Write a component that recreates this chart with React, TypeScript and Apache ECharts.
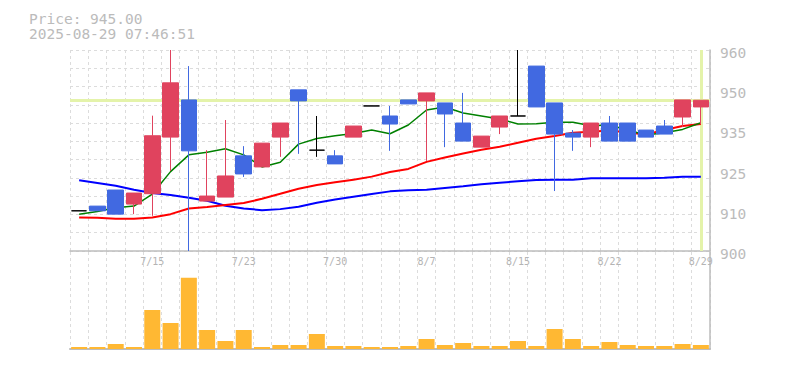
import React, { useEffect, useRef } from "react";
import * as echarts from "echarts";

// ---- data ----
const dates = [
  "7/9", "7/10", "7/11", "7/14", "7/15", "7/16", "7/17", "7/18", "7/22", "7/23",
  "7/24", "7/25", "7/28", "7/29", "7/30", "7/31", "8/1", "8/4", "8/5", "8/7",
  "8/8", "8/12", "8/13", "8/14", "8/15", "8/18", "8/19", "8/20", "8/21", "8/22",
  "8/25", "8/26", "8/27", "8/28", "8/29",
];

// [open, close, low, high]
const candles: number[][] = [
  [912, 912, 912, 912],
  [913.4, 912, 912, 913.4],
  [918.2, 911, 911, 918.2],
  [914, 917.3, 911, 917.3],
  [917.1, 934.4, 910.5, 940.4],
  [934, 950.2, 923.9, 960],
  [945.1, 929.9, 900, 955.2],
  [914.9, 916.4, 914.9, 930.1],
  [916.1, 922.4, 916.1, 939.1],
  [928.4, 923, 922.1, 931.3],
  [925.1, 932.2, 925.1, 932.2],
  [934, 938.2, 928.1, 938.2],
  [948.1, 944.8, 929, 948.1],
  [930.1, 930.1, 928.1, 940.3],
  [928.4, 926, 926, 930.1],
  [934, 937.3, 934, 937.3],
  [943.3, 943.3, 943.3, 943.3],
  [940.3, 937.9, 929.9, 943.3],
  [945.1, 943.9, 943.9, 945.1],
  [944.8, 947.2, 926.9, 947.2],
  [944.2, 940.9, 931, 944.2],
  [938.2, 932.8, 932.8, 947.2],
  [931, 934.3, 931, 934.3],
  [937, 940.3, 934.9, 940.3],
  [940.3, 940.3, 940.3, 960],
  [955.2, 943, 943, 955.2],
  [944.2, 934.9, 917.9, 944.2],
  [935.2, 934, 929.9, 936.1],
  [934, 938.2, 931, 938.2],
  [938.2, 932.8, 932.8, 940.3],
  [938.2, 932.8, 932.8, 938.2],
  [936.1, 934, 934, 936.1],
  [937.3, 934.9, 934.9, 939.1],
  [940, 945.1, 937, 945.1],
  [943, 945, 937.9, 945],
];

const maShort = [
  911.0, 911.8, 912.9, 913.4, 917, 923.7, 928.7, 929.5, 930.5, 928.7,
  925.1, 926.5, 931.9, 933.6, 934.4, 935.1, 936.1, 935.0, 937.6, 942.1,
  943, 941.2, 940.3, 939.4, 937.9, 938, 938.4, 938.4, 937.4, 937.6,
  936.1, 934.6, 935.3, 936.3, 938.3,
];

const maMid = [
  910.0, 909.9, 909.6, 909.6, 910, 911, 912.7, 913.1, 913.7, 914.3,
  915.6, 917.1, 918.6, 919.7, 920.5, 921.3, 922.2, 923.6, 924.5, 926.6,
  927.9, 929.1, 930.2, 931.1, 932.3, 933.5, 934.3, 935.3, 935.6, 936,
  935.4, 934.8, 936.1, 937.3, 937.9,
];

const maLong = [
  921.1, 920.3, 919.5, 918.3, 917.3, 916.7, 915.9, 915, 913.5, 912.7,
  912.2, 912.5, 913.2, 914.4, 915.4, 916.2, 917, 917.8, 918.1, 918.3,
  918.8, 919.3, 919.9, 920.4, 920.8, 921.2, 921.3, 921.3, 921.7, 921.7,
  921.7, 921.7, 921.9, 922.2, 922.2,
];

// relative volume (read as bar heights)
const volumes = [
  2, 2, 5, 2, 39, 26, 71.3, 19, 8, 19,
  2, 4, 4, 15, 3, 3, 2, 2, 3, 10,
  4, 6, 3, 3, 8, 3, 20, 10, 3, 7,
  4, 3, 3, 5, 4,
];

const priceMin = 900;
const priceMax = 960;
const priceStep = 12;
const currentPrice = 945;
const headerLines = ["Price: 945.00", "2025-08-29 07:46:51"];

const UP = "#e0435e";
const DOWN = "#4169e1";
const DOJI = "#000000";
const GRID = "#dcdcdc";
const AXIS = "#bdbdbd";
const TEXT = "#bbbbbb";
const MONO = "'DejaVu Sans Mono', 'Liberation Mono', monospace";

export default function App() {
  const ref = useRef<HTMLDivElement>(null);

  useEffect(() => {
    document.body.style.margin = "0";
    const chart = echarts.init(ref.current!, null, { renderer: "svg" });

    const candleData = candles.map((c) =>
      c[0] === c[1]
        ? {
            value: c,
            itemStyle: {
              color: DOJI,
              color0: DOJI,
              borderColor: DOJI,
              borderColor0: DOJI,
              borderColorDoji: DOJI,
            },
          }
        : c
    );

    const dashed = { color: GRID, type: [3, 3] as number[], width: 1 };

    chart.setOption({
      animation: false,
      backgroundColor: "#ffffff",
      grid: [
        { left: 70, top: 50, width: 640, height: 201 },
        { left: 70, top: 252, width: 640, height: 97 },
      ],
      xAxis: [
        {
          type: "category",
          gridIndex: 0,
          data: dates,
          boundaryGap: true,
          axisLine: { show: true, lineStyle: { color: AXIS, width: 1.5 } },
          axisTick: { show: false },
          axisLabel: {
            interval: (i: number) => i % 5 === 4,
            color: "#b4b4b4",
            fontFamily: MONO,
            fontSize: 10,
            margin: 5,
          },
          splitLine: { show: true, interval: 0, lineStyle: dashed },
        },
        {
          type: "category",
          gridIndex: 1,
          data: dates,
          boundaryGap: true,
          axisLine: { show: true, lineStyle: { color: AXIS, width: 2 } },
          axisTick: { show: false },
          axisLabel: { show: false },
          splitLine: { show: true, interval: 0, lineStyle: dashed },
        },
      ],
      yAxis: [
        {
          type: "value",
          gridIndex: 0,
          position: "right",
          min: priceMin,
          max: priceMax,
          interval: priceStep,
          axisLine: { show: true, lineStyle: { color: AXIS, width: 1.5 } },
          axisTick: { show: false },
          axisLabel: {
            color: TEXT,
            fontFamily: MONO,
            fontSize: 14.5,
            margin: 10,
            verticalAlign: "top",
            lineHeight: 6,
            formatter: (v: number) => String(Math.round(v / 5) * 5),
          },
          splitLine: { show: false },
        },
        {
          type: "value",
          gridIndex: 0,
          position: "left",
          min: 0,
          max: 11,
          interval: 1,
          axisLine: { show: false },
          axisTick: { show: false },
          axisLabel: { show: false },
          splitLine: { show: true, lineStyle: dashed },
        },
        {
          type: "value",
          gridIndex: 1,
          position: "right",
          min: 0,
          max: 97,
          axisLine: { show: true, lineStyle: { color: AXIS, width: 1.5 } },
          axisTick: { show: false },
          axisLabel: { show: false },
          splitLine: { show: false },
        },
      ],
      series: [
        {
          type: "line",
          xAxisIndex: 0,
          yAxisIndex: 0,
          data: maLong,
          symbol: "none",
          lineStyle: { color: "#0000ff", width: 2 },
          z: 2,
          silent: true,
        },
        {
          type: "line",
          xAxisIndex: 0,
          yAxisIndex: 0,
          data: maMid,
          symbol: "none",
          lineStyle: { color: "#ff0000", width: 2 },
          z: 2,
          silent: true,
        },
        {
          type: "line",
          xAxisIndex: 0,
          yAxisIndex: 0,
          data: maShort,
          symbol: "none",
          lineStyle: { color: "#008000", width: 1.5 },
          z: 2,
          silent: true,
        },
        {
          type: "candlestick",
          xAxisIndex: 0,
          yAxisIndex: 0,
          data: candleData,
          barWidth: 16,
          z: 3,
          itemStyle: {
            color: UP,
            color0: DOWN,
            borderColor: UP,
            borderColor0: DOWN,
            borderColorDoji: DOJI,
            borderWidth: 1,
          },
          markLine: {
            silent: true,
            z: 1,
            symbol: ["none", "none"],
            label: { show: false },
            lineStyle: { color: "#e4f3aa", width: 3, type: "solid" },
            data: [{ yAxis: currentPrice }, { xAxis: dates[dates.length - 1] }],
          },
        },
        {
          type: "bar",
          xAxisIndex: 1,
          yAxisIndex: 2,
          data: volumes,
          barWidth: 16,
          itemStyle: { color: "#ffb833" },
          silent: true,
        },
      ],
      graphic: [
        {
          type: "text",
          left: 29,
          top: 11,
          style: {
            text: headerLines.join("\n"),
            font: `14.5px ${MONO}`,
            lineHeight: 15,
            fill: TEXT,
          },
        },
      ],
    });

    return () => chart.dispose();
  }, []);

  return <div ref={ref} style={{ width: 785, height: 370 }} />;
}
